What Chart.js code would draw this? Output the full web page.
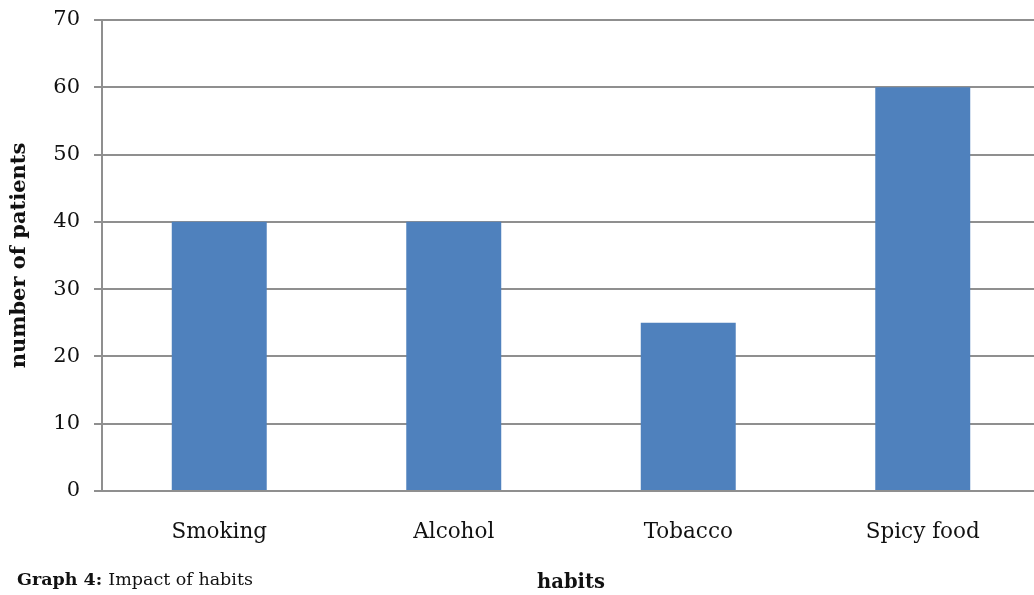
<!DOCTYPE html>
<html>
<head>
<meta charset="utf-8">
<script src="https://cdn.jsdelivr.net/npm/chart.js@4"></script>
<style>
  html, body { margin: 0; padding: 0; background: #fff; overflow: hidden; }
  #wrap { position: relative; width: 1040px; height: 595px; }
</style>
</head>
<body>
<div id="wrap"><canvas id="habitsChart"></canvas></div>
<script>
// habits vs number of patients
var habits = ['Smoking', 'Alcohol', 'Tobacco', 'Spicy food'];
var patients = [40, 40, 25, 60];
var yTicks = [0, 10, 20, 30, 40, 50, 60, 70];

var serif = '"DejaVu Serif", "Liberation Serif", serif';
var gridGrey = '#8f8f8f';

// caption under the chart, bold label then plain text
var captionPlugin = {
  id: 'caption',
  afterDraw: function(chart) {
    var ctx = chart.ctx;
    ctx.save();
    ctx.fillStyle = '#111';
    ctx.textBaseline = 'alphabetic';
    ctx.textAlign = 'left';
    ctx.font = 'bold 17.5px ' + serif;
    var lead = 'Graph 4:';
    ctx.fillText(lead, 17, 585);
    var w = ctx.measureText(lead + ' ').width;
    ctx.font = '17.5px ' + serif;
    ctx.fillText('Impact of habits', 17 + w, 585);
    ctx.restore();
  }
};

var ctx = document.getElementById('habitsChart').getContext('2d');
new Chart(ctx, {
  type: 'bar',
  data: {
    labels: habits,
    datasets: [{
      data: patients,
      backgroundColor: '#4f81bd',
      borderWidth: 0,
      barPercentage: 0.405,
      categoryPercentage: 1.0
    }]
  },
  options: {
    responsive: true,
    maintainAspectRatio: false,
    animation: false,
    layout: { padding: { top: 20, right: 0, left: 0, bottom: 0 } },
    plugins: {
      legend: { display: false },
      tooltip: { enabled: false }
    },
    scales: {
      x: {
        grid: { display: false, drawTicks: false },
        border: { display: true, color: gridGrey, width: 2 },
        ticks: {
          color: '#111',
          padding: 29,
          font: { family: serif, size: 21.5 }
        },
        title: {
          display: true,
          text: 'habits',
          color: '#111',
          font: { family: serif, size: 19.5, weight: 'bold' },
          padding: { top: 10, bottom: 0 }
        },
        afterFit: function(scale) { scale.height = 104; }
      },
      y: {
        min: 0,
        max: 70,
        afterBuildTicks: function(scale) {
          scale.ticks = yTicks.map(function(v) { return { value: v }; });
        },
        grid: {
          color: gridGrey,
          lineWidth: 2,
          drawTicks: true,
          tickLength: 8
        },
        border: { display: true, color: gridGrey, width: 2 },
        ticks: {
          color: '#111',
          padding: 14,
          font: { family: serif, size: 21 }
        },
        title: {
          display: true,
          text: 'number of patients',
          color: '#111',
          font: { family: serif, size: 21, weight: 'bold' },
          padding: { top: 7, bottom: 0 }
        },
        afterFit: function(scale) {
          scale.width = 102;
          scale.paddingTop = 0;
        }
      }
    }
  },
  plugins: [captionPlugin]
});
</script>
</body>
</html>
